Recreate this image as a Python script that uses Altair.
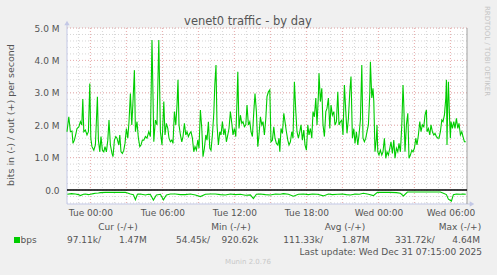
import altair as alt
import pandas as pd

# ---- data (minutes relative to Tue 00:00, values in Mbit/s) ----
OUT_TIMES = [
    -117, -108, -100, -92, -87, -80, -72, -67, -58, -50,
    -43, -38, -33, -25, -17, -10, -3, 2, 8, 17,
    25, 35, 40, 47, 53, 60, 67, 73, 80, 87,
    93, 100, 108, 113, 120, 127, 133, 142, 147, 153,
    160, 167, 173, 180, 187, 193, 200, 207, 213, 220,
    225, 233, 240, 247, 253, 260, 267, 275, 283, 292,
    300, 308, 317, 325, 333, 342,
    350, 358, 367, 373, 380, 387, 393, 400, 407, 413,
    420, 427, 433, 438, 443, 450, 457, 463, 470, 477,
    483, 490, 497, 503, 510, 517, 523, 530, 537, 543,
    550, 557, 563, 570, 577, 583, 590, 597, 603, 610,
    617, 622, 628, 633, 640, 647, 653, 660, 667, 673,
    680, 687, 693, 700, 707, 713, 720, 727, 733, 737,
    743, 750, 757, 763, 770, 777, 783, 790, 797, 803,
    810, 817, 823, 830, 837, 843, 850, 857, 863, 870,
    877, 883, 890, 897, 903, 910, 917, 923, 930, 937,
    943, 947, 953, 960, 967, 973, 980, 987, 993, 1000,
    1007, 1013, 1020, 1027, 1033, 1040, 1047, 1053, 1060, 1067,
    1073, 1080, 1087, 1093, 1100, 1107, 1113, 1120, 1127, 1133,
    1140, 1143, 1150, 1157, 1163, 1170, 1177, 1183, 1190, 1197,
    1203, 1210, 1217, 1223, 1230, 1237, 1243, 1250, 1257, 1263,
    1270, 1277, 1283, 1290, 1297, 1303, 1310, 1317, 1323, 1330,
    1337, 1343, 1350, 1357, 1363,
    1370, 1377, 1383, 1390, 1397, 1400, 1407, 1413, 1417, 1423,
    1430, 1433, 1437, 1443, 1450, 1457, 1463, 1470, 1477, 1483,
    1490, 1497, 1503, 1510, 1517, 1523, 1530, 1537, 1543, 1550,
    1557, 1563, 1567, 1573, 1580, 1587, 1593, 1600, 1607, 1613,
    1620, 1627, 1633, 1640, 1647, 1653, 1660, 1667, 1673, 1680,
    1683, 1690, 1697, 1703, 1710, 1717, 1723, 1730, 1737, 1743,
    1750, 1757, 1763, 1770, 1777, 1780, 1783, 1787, 1790, 1797,
    1800, 1803, 1810, 1817, 1823, 1830, 1837, 1843, 1850, 1857,
    1863, 1870, 1877,
]
OUT_VALUES = [
    1.80, 2.26, 1.80, 1.82, 1.44, 1.54, 1.75, 1.90, 1.95, 2.11,
    2.01, 2.81, 1.80, 1.85, 1.70, 1.80, 3.29, 1.60, 1.34, 1.23,
    1.39, 2.88, 1.54, 1.18, 1.65, 1.23, 1.18, 1.34, 1.18, 1.54,
    2.16, 1.39, 1.13, 1.03, 1.54, 1.65, 1.60, 1.39, 1.70, 1.18,
    1.13, 1.23, 1.44, 1.90, 1.60, 2.11, 2.98, 2.01, 2.73, 3.70,
    1.80, 2.11, 1.60, 1.34, 1.39, 1.54, 1.54, 1.65, 1.60, 1.80,
    1.65, 4.63, 1.49, 2.16, 2.01, 4.63,
    1.80, 1.39, 2.73, 1.70, 2.06, 1.90, 1.60, 1.49, 1.54, 1.44,
    2.42, 2.01, 2.62, 3.40, 2.01, 1.70, 1.49, 1.65, 2.06, 1.70,
    1.80, 1.65, 1.75, 1.80, 1.60, 1.18, 1.34, 1.23, 1.54, 1.29,
    2.47, 1.90, 1.03, 1.29, 1.70, 1.54, 2.11, 1.29, 1.23, 1.70,
    2.37, 3.24, 3.86, 2.01, 1.39, 1.80, 1.70, 2.11, 1.70, 1.90,
    1.49, 1.70, 1.90, 2.42, 2.06, 1.70, 1.90, 1.65, 2.73, 3.65,
    1.90, 2.31, 2.06, 2.11, 1.95, 2.01, 2.62, 2.01, 2.11, 1.80,
    1.65, 2.42, 2.98, 2.42, 1.34, 1.70, 2.26, 2.01, 2.11, 1.70,
    2.21, 2.88, 3.03, 3.09, 1.49, 1.54, 1.95, 1.60, 1.44, 1.39,
    1.60, 1.18, 1.90, 1.75, 2.37, 2.11, 1.80, 1.54, 1.39, 1.49,
    1.80, 1.60, 3.34, 2.42, 1.80, 1.60, 1.80, 2.01, 1.54, 1.85,
    1.39, 1.23, 2.01, 1.70, 1.90, 1.60, 2.42, 2.26, 2.84, 2.01,
    2.93, 3.60, 2.73, 3.14, 2.01, 1.65, 2.42, 2.52, 2.84, 1.90,
    2.62, 2.31, 2.42, 2.01, 2.11, 3.03, 2.01, 2.11, 2.16, 1.70,
    3.24, 2.42, 1.75, 2.21, 3.03, 3.50, 1.60, 1.90, 1.44, 1.80,
    1.39, 1.70, 2.16, 3.86, 1.60,
    1.49, 1.60, 1.80, 2.01, 3.00, 3.96, 2.84, 3.14, 2.73, 1.18,
    1.60, 2.01, 1.18, 1.08, 1.23, 1.08, 1.18, 1.60, 0.98, 1.18,
    1.08, 1.29, 1.49, 1.13, 1.54, 0.98, 1.29, 1.18, 1.44, 1.18,
    2.01, 3.24, 2.62, 1.18, 2.01, 2.37, 0.98, 1.08, 1.23, 1.18,
    1.29, 1.60, 1.39, 1.70, 2.11, 1.80, 2.01, 1.95, 2.31, 2.47,
    1.80, 1.90, 1.70, 2.01, 1.80, 1.70, 1.75, 1.65, 1.60, 1.60,
    1.80, 2.16, 2.11, 2.31, 2.84, 3.40, 1.39, 2.73, 3.34, 2.01,
    1.60, 2.11, 1.90, 2.11, 1.90, 2.21, 1.90, 2.06, 1.70, 1.80,
    1.65, 1.49, 1.49,
]
IN_TIMES = [
    -115, -95, -75, -60, -50, -35, -25, -10, 0, 15,
    25, 40, 50, 75, 100, 125, 150, 175, 200, 215,
    225, 235, 250, 275, 290, 300, 315, 330, 350, 365,
    380, 400, 425, 450, 475, 500, 525, 550, 575, 600,
    625, 650, 675, 700, 725, 750, 775, 800, 815, 830,
    850, 875, 900, 925, 950, 965, 990, 1015, 1040, 1065,
    1090, 1110, 1135, 1165, 1190, 1210, 1235, 1260, 1280, 1300,
    1325, 1345, 1365, 1390, 1415, 1435, 1470, 1500, 1530, 1550,
    1565, 1585, 1620, 1650, 1700, 1750, 1765, 1780, 1790, 1805,
    1815, 1830, 1850, 1865, 1877,
]
IN_VALUES = [
    -0.13, -0.11, -0.12, -0.14, -0.17, -0.13, -0.12, -0.14, -0.13, -0.11,
    -0.10, -0.09, -0.08, -0.07, -0.07, -0.07, -0.07, -0.07, -0.12, -0.14,
    -0.30, -0.13, -0.12, -0.15, -0.13, -0.14, -0.31, -0.15, -0.13, -0.30,
    -0.15, -0.12, -0.12, -0.14, -0.14, -0.12, -0.15, -0.20, -0.13, -0.12,
    -0.12, -0.14, -0.15, -0.12, -0.14, -0.13, -0.16, -0.15, -0.26, -0.13,
    -0.12, -0.14, -0.15, -0.12, -0.13, -0.11, -0.13, -0.19, -0.13, -0.12,
    -0.14, -0.12, -0.13, -0.18, -0.12, -0.14, -0.13, -0.12, -0.14, -0.15,
    -0.12, -0.13, -0.10, -0.13, -0.17, -0.07, -0.07, -0.07, -0.08, -0.10,
    -0.18, -0.06, -0.06, -0.06, -0.06, -0.06, -0.10, -0.14, -0.28, -0.34,
    -0.14, -0.12, -0.13, -0.12, -0.13,
]

X_TICKS = [0, 360, 720, 1080, 1440, 1800]
X_LABELS = ["Tue 00:00", "Tue 06:00", "Tue 12:00", "Tue 18:00", "Wed 00:00", "Wed 06:00"]
Y_TICKS = [0, 1, 2, 3, 4, 5]
Y_LABELS = ["0.0", "1.0 M", "2.0 M", "3.0 M", "4.0 M", "5.0 M"]
X_DOMAIN = [-117, 1883]
Y_DOMAIN = [-0.43, 5.0]

HOUR_GRID = list(range(-60, 1861, 60))
MAJOR_HOUR_GRID = list(range(0, 1801, 180))
MINOR_Y_GRID = [round(-0.4 + 0.2 * i, 1) for i in range(28)]
MAJOR_Y_GRID = [1, 2, 3, 4, 5]

TITLE = "venet0 traffic - by day"
Y_TITLE = "bits in (-) / out (+) per second"
LEGEND_NAME = "bps"
LEGEND_HEADERS = ["Cur (-/+)", "Min (-/+)", "Avg (-/+)", "Max (-/+)"]
LEGEND_VALUES = ["97.11k/", "1.47M", "54.45k/", "920.62k", "111.33k/", "1.87M", "331.72k/", "4.64M"]
LAST_UPDATE = "Last update: Wed Dec 31 07:15:00 2025"
FOOTER = "Munin 2.0.76"
SIDE = "RRDTOOL / TOBI OETIKER"

# ---- styling ----
W, H = 400, 176
GREEN = "#00CC00"
TEXT = "#555555"
FONT = "DejaVu Sans"
AXIS_BLUE = "#C3C8E6"

x_labels_expr = "[%s][indexof([%s], datum.value)]" % (
    ",".join("'%s'" % s for s in X_LABELS), ",".join(str(v) for v in X_TICKS))
y_labels_expr = "[%s][indexof([%s], datum.value)]" % (
    ",".join("'%s'" % s for s in Y_LABELS), ",".join(str(v) for v in Y_TICKS))

xscale = alt.Scale(domain=X_DOMAIN, nice=False, zero=False)
yscale = alt.Scale(domain=Y_DOMAIN, nice=False, zero=False)
xaxis = alt.Axis(values=X_TICKS, labelExpr=x_labels_expr, title=None, grid=False,
                 domain=False, ticks=False, labelPadding=4, labelFontSize=9,
                 labelColor=TEXT, labelFont=FONT, labelFlush=False, labelOverlap=False)
yaxis = alt.Axis(values=Y_TICKS, labelExpr=y_labels_expr, title=None, grid=False,
                 domain=False, ticks=False, labelPadding=8, labelFontSize=9,
                 labelColor=TEXT, labelFont=FONT, labelFlush=False, labelOverlap=False)

df_out = pd.DataFrame({"t": OUT_TIMES, "v": OUT_VALUES})
df_in = pd.DataFrame({"t": IN_TIMES, "v": IN_VALUES})


def vgrid(vals, color):
    return alt.Chart(pd.DataFrame({"m": vals})).mark_rule(
        color=color, strokeDash=[1, 2], strokeWidth=1
    ).encode(x=alt.X("m:Q", scale=xscale, axis=xaxis), y=alt.value(0), y2=alt.value(H))


def hgrid(vals, color):
    return alt.Chart(pd.DataFrame({"g": vals})).mark_rule(
        color=color, strokeDash=[1, 2], strokeWidth=1
    ).encode(y=alt.Y("g:Q", scale=yscale, axis=yaxis), x=alt.value(0), x2=alt.value(W))


def label(text, x, y, size=9, color=TEXT, align="left", angle=0, baseline="middle"):
    return alt.Chart(pd.DataFrame({"s": [text]})).mark_text(
        align=align, baseline=baseline, fontSize=size, color=color, font=FONT, angle=angle
    ).encode(x=alt.value(x), y=alt.value(y), text="s:N")


def line(df):
    return alt.Chart(df).mark_line(color=GREEN, strokeWidth=1.1).encode(
        x=alt.X("t:Q", scale=xscale, axis=xaxis),
        y=alt.Y("v:Q", scale=yscale, axis=yaxis),
        order="t:Q",
    )


one = pd.DataFrame({"z": [0]})
zero_line = alt.Chart(one).mark_rule(color="black", strokeWidth=1.5).encode(
    y=alt.Y("z:Q", scale=yscale, axis=yaxis), x=alt.value(0), x2=alt.value(W))
left_axis = alt.Chart(one).mark_rule(color=AXIS_BLUE, strokeWidth=1).encode(
    x=alt.value(0), y=alt.value(-4), y2=alt.value(H))
bottom_axis = alt.Chart(one).mark_rule(color=AXIS_BLUE, strokeWidth=1).encode(
    x=alt.value(0), x2=alt.value(W + 4), y=alt.value(H))
right_line = alt.Chart(one).mark_rule(color="#A0A0A0", strokeWidth=1).encode(
    x=alt.value(W), y=alt.value(0), y2=alt.value(H))
arrow_up = alt.Chart(one).mark_point(shape="triangle-up", filled=True, size=28,
                                     color=AXIS_BLUE, opacity=1).encode(
    x=alt.value(0), y=alt.value(-5))
arrow_right = alt.Chart(one).mark_point(shape="triangle-right", filled=True, size=28,
                                        color=AXIS_BLUE, opacity=1).encode(
    x=alt.value(W + 5), y=alt.value(H))
legend_square = alt.Chart(one).mark_square(color=GREEN, size=36, opacity=1).encode(
    x=alt.value(-50), y=alt.value(212))

header_x = [51, 164, 278, 393]
value_x = [0, 52, 109, 154.5, 216.3, 274.7, 328, 385.3]

layers = [
    vgrid(HOUR_GRID, "#D6D6D6"),
    hgrid(MINOR_Y_GRID, "#D6D6D6"),
    vgrid(MAJOR_HOUR_GRID, "#ECAEAE"),
    hgrid(MAJOR_Y_GRID, "#ECAEAE"),
    left_axis, bottom_axis, right_line, arrow_up, arrow_right,
    line(df_out), line(df_in), zero_line,
    label(TITLE, 181, -3, size=11.5, align="center", baseline="alphabetic"),
    label(Y_TITLE, -56, 87, size=9.5, align="center", angle=270),
    label(SIDE, 420, 23, size=7, color="#C4C4C4", align="center", angle=90),
    legend_square,
    label(LEGEND_NAME, -46.5, 212),
    label(LAST_UPDATE, 415, 224, align="right"),
    label(FOOTER, 181, 234, size=7, color="#C8C8C8", align="center"),
]
for hx, txt in zip(header_x, LEGEND_HEADERS):
    layers.append(label(txt, hx, 198.5, align="center"))
for vx, txt in zip(value_x, LEGEND_VALUES):
    layers.append(label(txt, vx, 212))

chart = alt.layer(*layers).properties(
    width=W, height=H,
    padding={"left": 67, "top": 28, "right": 30, "bottom": 71},
    autosize=alt.AutoSizeParams(type="none"),
).configure(background="#F0F0F0").configure_view(fill="white", stroke=None)

chart.save("out.html", embed_options={"renderer": "svg", "actions": False})
